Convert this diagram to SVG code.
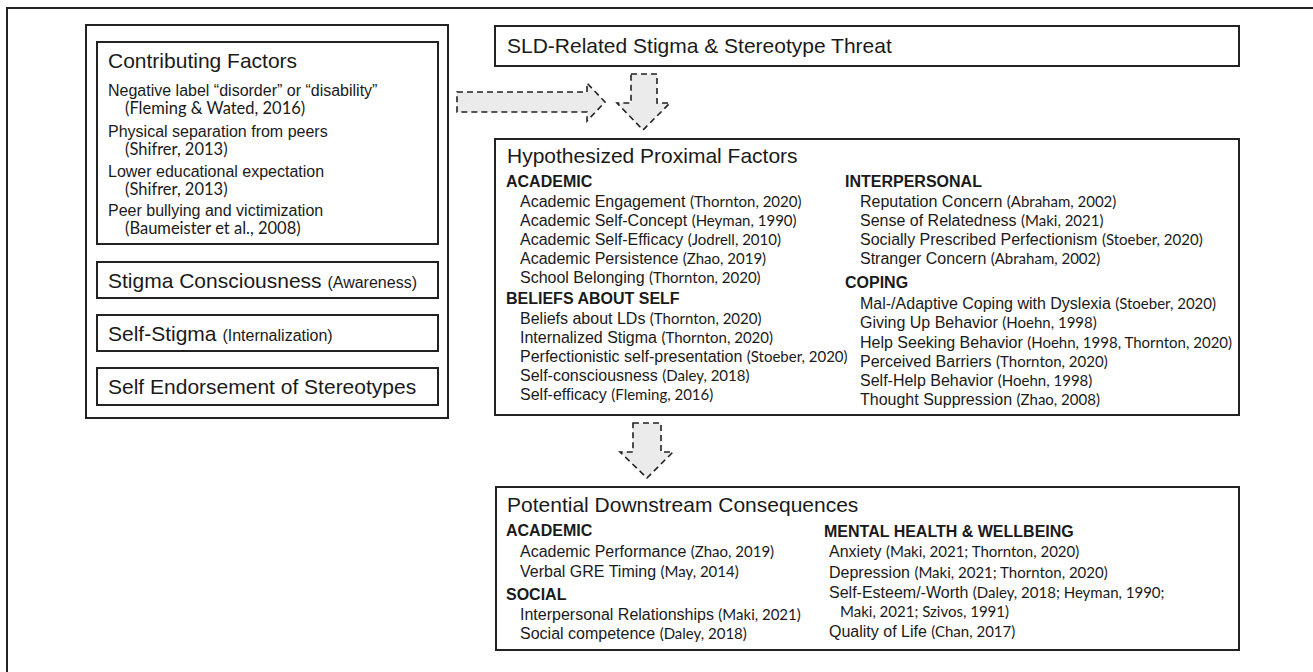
<svg xmlns="http://www.w3.org/2000/svg" width="1313" height="672" viewBox="0 0 1313 672">
<style>
.box{fill:#fff;stroke:#222;stroke-width:2}
.frame{fill:none;stroke:#222;stroke-width:2}
.arr{fill:#ebebeb;stroke:#222;stroke-width:1.6;stroke-dasharray:6 4}
text{font-family:"Liberation Sans",Arial,sans-serif;fill:#1a1a1a}
.t{font-size:21px}
.i{font-size:16px}
.h{font-size:16px;font-weight:bold}
.c{font-family:Lato,"Open Sans",sans-serif;font-size:15px}
.cl{font-family:Lato,"Open Sans",sans-serif;font-size:16.5px}
</style>
<g id="frame">
<path class="frame" d="M7,672 V8 H1313"/>
</g>
<g id="left-panel">
<rect class="box" x="86" y="25" width="362" height="393"/>
</g>
<g id="contributing-factors">
<rect class="box" x="97" y="42" width="341" height="202"/>
<text class="t" x="108" y="68">Contributing Factors</text>
<text class="i" x="108" y="96">Negative label “disorder” or “disability”</text>
<text class="cl" x="125" y="114">(Fleming &amp; Wated, 2016)</text>
<text class="i" x="108" y="137">Physical separation from peers</text>
<text class="cl" x="125" y="155">(Shifrer, 2013)</text>
<text class="i" x="108" y="177">Lower educational expectation</text>
<text class="cl" x="125" y="195">(Shifrer, 2013)</text>
<text class="i" x="108" y="216">Peer bullying and victimization</text>
<text class="cl" x="125" y="234">(Baumeister et al., 2008)</text>
</g>
<g id="stigma-consciousness">
<rect class="box" x="97" y="262" width="341" height="36"/>
<text class="t" x="108" y="288">Stigma Consciousness <tspan class="i">(Awareness)</tspan></text>
</g>
<g id="self-stigma">
<rect class="box" x="97" y="315" width="341" height="36"/>
<text class="t" x="108" y="341">Self-Stigma <tspan class="i">(Internalization)</tspan></text>
</g>
<g id="self-endorsement">
<rect class="box" x="97" y="368" width="341" height="37"/>
<text class="t" x="108" y="394">Self Endorsement of Stereotypes</text>
</g>
<g id="sld-stigma">
<rect class="box" x="495" y="26" width="744" height="40"/>
<text class="t" x="507" y="53">SLD-Related Stigma &amp; Stereotype Threat</text>
</g>
<g id="proximal-factors">
<rect class="box" x="495" y="139" width="744" height="276"/>
<text class="t" x="507" y="163">Hypothesized Proximal Factors</text>
<text class="h" x="506" y="187">ACADEMIC</text>
<text class="i" x="520" y="207">Academic Engagement <tspan class="c"> (Thornton, 2020)</tspan></text>
<text class="i" x="520" y="226">Academic Self-Concept <tspan class="c">(Heyman, 1990)</tspan></text>
<text class="i" x="520" y="245">Academic Self-Efficacy <tspan class="c">(Jodrell, 2010)</tspan></text>
<text class="i" x="520" y="264">Academic Persistence <tspan class="c">(Zhao, 2019)</tspan></text>
<text class="i" x="520" y="283">School Belonging <tspan class="c">(Thornton, 2020)</tspan></text>
<text class="h" x="506" y="304">BELIEFS ABOUT SELF</text>
<text class="i" x="520" y="324">Beliefs about LDs <tspan class="c">(Thornton, 2020)</tspan></text>
<text class="i" x="520" y="343">Internalized Stigma <tspan class="c">(Thornton, 2020)</tspan></text>
<text class="i" x="520" y="362">Perfectionistic self-presentation <tspan class="c">(Stoeber, 2020)</tspan></text>
<text class="i" x="520" y="381">Self-consciousness <tspan class="c">(Daley, 2018)</tspan></text>
<text class="i" x="520" y="400">Self-efficacy <tspan class="c">(Fleming, 2016)</tspan></text>
<text class="h" x="845" y="187">INTERPERSONAL</text>
<text class="i" x="860" y="207">Reputation Concern <tspan class="c">(Abraham, 2002)</tspan></text>
<text class="i" x="860" y="226">Sense of Relatedness <tspan class="c">(Maki, 2021)</tspan></text>
<text class="i" x="860" y="245">Socially Prescribed Perfectionism <tspan class="c"> (Stoeber, 2020)</tspan></text>
<text class="i" x="860" y="264">Stranger Concern <tspan class="c">(Abraham, 2002)</tspan></text>
<text class="h" x="845" y="288">COPING</text>
<text class="i" x="860" y="309">Mal-/Adaptive Coping with Dyslexia <tspan class="c">(Stoeber, 2020)</tspan></text>
<text class="i" x="860" y="328">Giving Up Behavior <tspan class="c">(Hoehn, 1998)</tspan></text>
<text class="i" x="860" y="348">Help Seeking Behavior <tspan class="c">(Hoehn, 1998, Thornton, 2020)</tspan></text>
<text class="i" x="860" y="367">Perceived Barriers <tspan class="c">(Thornton, 2020)</tspan></text>
<text class="i" x="860" y="386">Self-Help Behavior <tspan class="c">(Hoehn, 1998)</tspan></text>
<text class="i" x="860" y="405">Thought Suppression <tspan class="c">(Zhao, 2008)</tspan></text>
</g>
<g id="downstream-consequences">
<rect class="box" x="496" y="487" width="743" height="163"/>
<text class="t" x="507" y="512">Potential Downstream Consequences</text>
<text class="h" x="506" y="536">ACADEMIC</text>
<text class="i" x="520" y="557">Academic Performance <tspan class="c">(Zhao, 2019)</tspan></text>
<text class="i" x="520" y="577">Verbal GRE Timing <tspan class="c">(May, 2014)</tspan></text>
<text class="h" x="506" y="600">SOCIAL</text>
<text class="i" x="520" y="620">Interpersonal Relationships <tspan class="c">(Maki, 2021)</tspan></text>
<text class="i" x="520" y="639">Social competence <tspan class="c">(Daley, 2018)</tspan></text>
<text class="h" x="824" y="537">MENTAL HEALTH &amp; WELLBEING</text>
<text class="i" x="829" y="557">Anxiety <tspan class="c">(Maki, 2021; Thornton, 2020)</tspan></text>
<text class="i" x="829" y="578">Depression <tspan class="c">(Maki, 2021; Thornton, 2020)</tspan></text>
<text class="i" x="829" y="598">Self-Esteem/-Worth <tspan class="c">(Daley, 2018; Heyman, 1990;</tspan></text>
<text class="c" x="840" y="617">Maki, 2021; Szivos, 1991)</text>
<text class="i" x="829" y="637">Quality of Life <tspan class="c">(Chan, 2017)</tspan></text>
</g>
<g id="connectors">
<polygon class="arr" points="457,92 587,92 587,83 605,102 587,121 587,112 457,112"/>
<polygon class="arr" points="631,74 657,74 657,103 670,103 643,130 617,103 631,103"/>
<polygon class="arr" points="633,423 661,423 661,452 673,452 647,478 620,452 633,452"/>
</g>
</svg>
